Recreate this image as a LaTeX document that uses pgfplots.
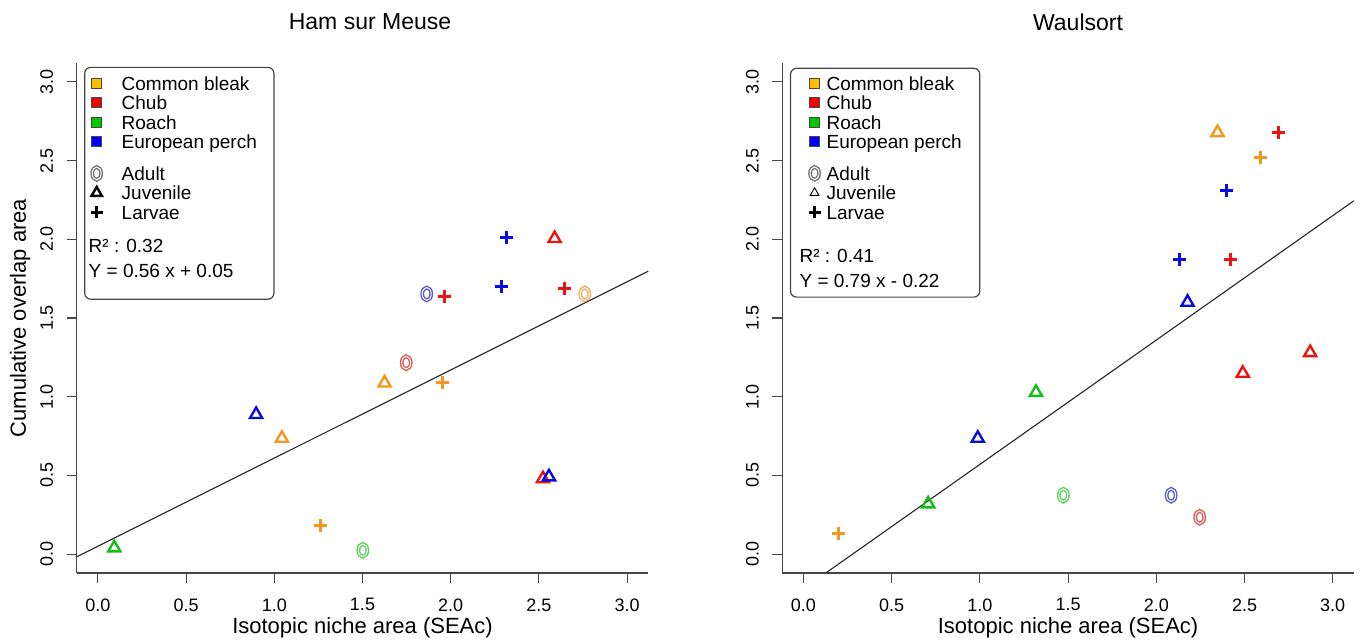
\documentclass[border=0pt]{standalone}
\usepackage{fontspec}
\setmainfont{Liberation Sans}
\usepackage{pgfplots}
\pgfplotsset{compat=1.18}

\definecolor{cbleak}{RGB}{245,150,30}
\definecolor{cbleakL}{RGB}{255,190,0}
\definecolor{cchub}{RGB}{235,20,20}
\definecolor{cchubL}{RGB}{240,0,0}
\definecolor{croach}{RGB}{20,190,20}
\definecolor{croachL}{RGB}{0,200,0}
\definecolor{cperch}{RGB}{10,10,225}
\definecolor{cperchL}{RGB}{0,0,255}
\definecolor{oBleak}{RGB}{240,170,90}
\definecolor{oChub}{RGB}{225,85,85}
\definecolor{oRoach}{RGB}{90,210,90}
\definecolor{oPerch}{RGB}{90,90,205}
\definecolor{axgray}{RGB}{70,70,70}

\pgfdeclareplotmark{adultO}{%
  \pgfsetlinewidth{3.8pt}%
  \pgfpathellipse{\pgfpointorigin}{\pgfqpoint{4.5pt}{0pt}}{\pgfqpoint{0pt}{6.4pt}}%
  \pgfusepathqstroke
  \pgfscope
  \pgfsetlinewidth{1.0pt}%
  \pgfsetstrokecolor{white}%
  \pgfpathellipse{\pgfpointorigin}{\pgfqpoint{4.5pt}{0pt}}{\pgfqpoint{0pt}{6.4pt}}%
  \pgfusepathqstroke
  \endpgfscope
}

\def\legw{30pt}
\pgfplotsset{
  panel/.style={
    scale only axis, width=571.6pt, height=510pt,
    xmin=-0.12, xmax=3.12, ymin=-0.12, ymax=3.12,
    axis x line*=bottom, axis y line*=left,
    axis line style={draw=axgray, line width=1.1pt, -},
    xtick={0,0.5,1,1.5,2,2.5,3}, ytick={0,0.5,1,1.5,2,2.5,3},
    xticklabels={0.0,0.5,1.0,1.5,2.0,2.5,3.0},
    yticklabels={0.0,0.5,1.0,1.5,2.0,2.5,3.0},
    tick align=outside, major tick length=10pt,
    tick style={draw=axgray, line width=1.1pt},
    xticklabel style={font=\fontsize{18}{18}\selectfont, anchor=north},
    yticklabel style={font=\fontsize{18}{18}\selectfont, rotate=90, anchor=south},
    xticklabel shift=12pt, yticklabel shift=10pt,
    xlabel style={font=\fontsize{22}{22}\selectfont, at={(axis description cs:0.5,-0.108)}, anchor=center},
    ylabel style={font=\fontsize{22}{22}\selectfont, at={(axis description cs:-0.099,0.5)}, anchor=center},
    clip=true,
  },
  adult/.style={only marks, mark=adultO, color=#1, forget plot},
  juv/.style={only marks, mark=triangle, mark size=7pt, line width=2.4pt, color=#1, forget plot},
  larv/.style={only marks, mark=+, mark size=6.5pt, line width=3pt, color=#1, forget plot},
  sqleg/.style={legend image code/.code={\draw[sharp corners, draw=axgray, line width=0.9pt, fill=#1] (0pt,1.8pt) rectangle (10pt,11.8pt); \path[draw=none,fill=none] (0pt,6.8pt) -- (\legw,6.8pt);}},
  mkleg/.style={legend image code/.code={\draw[##1, sharp corners, only marks] plot coordinates {(5pt,6.8pt)}; \path[draw=none,fill=none] (0pt,6.8pt) -- (\legw,6.8pt);}},
  boxleg/.style={legend style={draw=axgray, line width=1.2pt, rounded corners=6pt, fill=white,
      row sep=0pt, column sep=0pt, font=\fontsize{19}{19}\selectfont,
      cells={anchor=base west}, nodes={inner sep=0pt, text height=14pt, text depth=5.5pt}}},
}

\begin{document}
\begin{tikzpicture}
\path[use as bounding box] (0pt,0pt) rectangle (1361pt,640pt);

\node[font=\fontsize{23}{23}\selectfont] at (370pt,618pt) {Ham sur Meuse};
\node[font=\fontsize{23}{23}\selectfont] at (1078pt,618pt) {Waulsort};

\begin{axis}[panel, at={(76.7pt,67pt)}, anchor=south west,
  xlabel={Isotopic niche area (SEAc)}, ylabel={Cumulative overlap area},
  boxleg, legend style={at={(axis cs:-0.078,3.096)}, anchor=north west, inner xsep=6pt, inner ysep=8.8pt}]
\addplot[black!85, line width=1.1pt, forget plot] coordinates {(-0.12,-0.0172) (3.12,1.7972)};
% Common bleak
\addplot[adult=oBleak] coordinates {(2.760,1.653)};
\addplot[juv=cbleak] coordinates {(1.625,1.087) (1.043,0.736)};
\addplot[larv=cbleak] coordinates {(1.955,1.092) (1.264,0.181)};
% Chub
\addplot[adult=oChub] coordinates {(1.748,1.216)};
\addplot[juv=cchub] coordinates {(2.589,2.005) (2.523,0.479)};
\addplot[larv=cchub] coordinates {(1.967,1.638) (2.646,1.689)};
% Roach
\addplot[adult=oRoach] coordinates {(1.502,0.024)};
\addplot[juv=croach] coordinates {(0.093,0.040)};
% European perch
\addplot[adult=oPerch] coordinates {(1.864,1.653)};
\addplot[juv=cperch] coordinates {(0.897,0.887) (2.557,0.491)};
\addplot[larv=cperch] coordinates {(2.319,2.010) (2.287,1.700)};
% legend
\addlegendimage{sqleg=cbleakL}\addlegendentry{Common bleak}
\addlegendimage{sqleg=cchubL}\addlegendentry{Chub}
\addlegendimage{sqleg=croachL}\addlegendentry{Roach}
\addlegendimage{sqleg=cperchL}\addlegendentry{European perch\hspace*{11pt}}
\addlegendimage{empty legend}\addlegendentry[text height=12pt,text depth=0pt]{}
\addlegendimage{mkleg, mark=adultO, black!55}\addlegendentry{Adult}
\addlegendimage{mkleg, mark=triangle, mark size=6pt, line width=2.4pt, black}\addlegendentry{Juvenile}
\addlegendimage{mkleg, mark=+, mark size=6pt, line width=3pt, black}\addlegendentry{Larvae}
\addlegendimage{empty legend}\addlegendentry[text height=13.5pt,text depth=0pt]{}
\addlegendimage{empty legend}\addlegendentry[text depth=11pt]{\hspace*{-33pt}R² : 0.32}
\addlegendimage{empty legend}\addlegendentry[text depth=13.2pt]{\hspace*{-33pt}Y = 0.56 x + 0.05}
\end{axis}

\def\legw{17pt}
\begin{axis}[panel, at={(782.3pt,67pt)}, anchor=south west,
  xlabel={Isotopic niche area (SEAc)},
  boxleg, legend style={at={(axis cs:-0.0765,3.090)}, anchor=north west, inner xsep=18pt, inner ysep=7.8pt}]
\addplot[black!85, line width=1.1pt, forget plot] coordinates {(0.1266,-0.12) (3.12,2.2448)};
% Common bleak
\addplot[juv=cbleak] coordinates {(2.347,2.678)};
\addplot[larv=cbleak] coordinates {(2.589,2.518) (0.197,0.131)};
% Chub
\addplot[adult=oChub] coordinates {(2.246,0.234)};
\addplot[juv=cchub] coordinates {(2.872,1.280) (2.490,1.149)};
\addplot[larv=cchub] coordinates {(2.690,2.678) (2.419,1.872)};
% Roach
\addplot[adult=oRoach] coordinates {(1.473,0.374)};
\addplot[juv=croach] coordinates {(1.318,1.027) (0.707,0.319)};
% European perch
\addplot[adult=oPerch] coordinates {(2.084,0.374)};
\addplot[juv=cperch] coordinates {(2.177,1.600) (0.988,0.736)};
\addplot[larv=cperch] coordinates {(2.399,2.311) (2.130,1.872)};
% legend
\addlegendimage{sqleg=cbleakL}\addlegendentry{Common bleak}
\addlegendimage{sqleg=cchubL}\addlegendentry{Chub}
\addlegendimage{sqleg=croachL}\addlegendentry{Roach}
\addlegendimage{sqleg=cperchL}\addlegendentry{European perch}
\addlegendimage{empty legend}\addlegendentry[text height=12pt,text depth=0pt]{}
\addlegendimage{mkleg, mark=adultO, black!55}\addlegendentry{Adult}
\addlegendimage{mkleg, mark=triangle, mark size=5pt, line width=0.9pt, black}\addlegendentry{Juvenile}
\addlegendimage{mkleg, mark=+, mark size=6pt, line width=3pt, black}\addlegendentry{Larvae}
\addlegendimage{empty legend}\addlegendentry[text height=23.5pt,text depth=0pt]{}
\addlegendimage{empty legend}\addlegendentry[text depth=11pt]{\hspace*{-27pt}R² : 0.41}
\addlegendimage{empty legend}\addlegendentry[text depth=2.2pt]{\hspace*{-27pt}Y = 0.79 x - 0.22}
\end{axis}
\end{tikzpicture}
\end{document}
